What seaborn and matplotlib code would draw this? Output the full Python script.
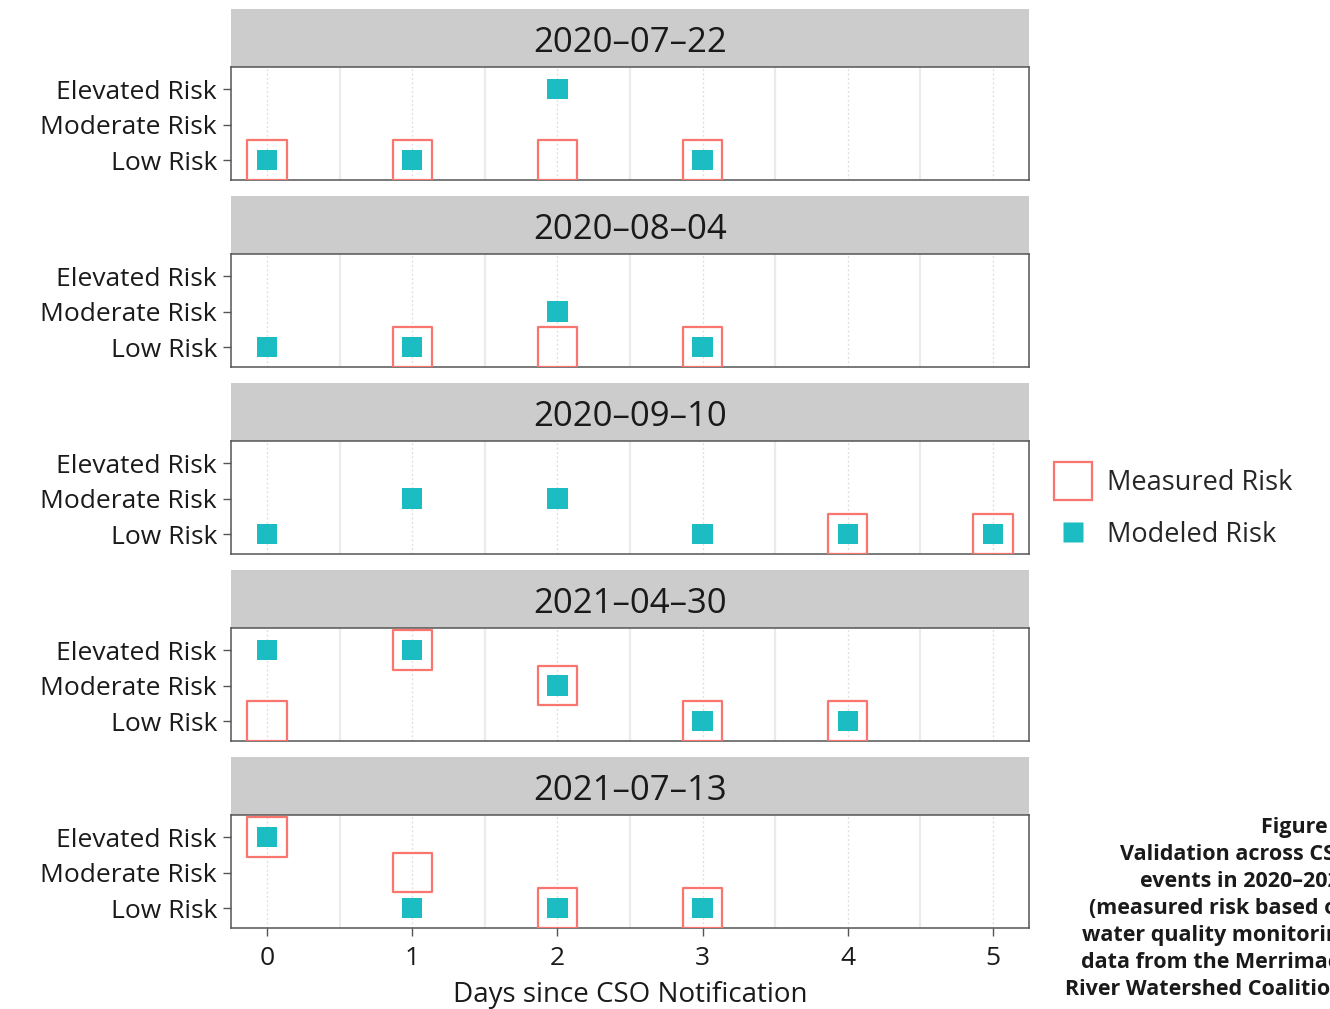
import matplotlib
matplotlib.use("Agg")
import matplotlib.pyplot as plt
from matplotlib.lines import Line2D
import seaborn as sns
import pandas as pd

sns.set_theme(style="white")
plt.rcParams["font.family"] = ["Open Sans", "DejaVu Sans"]

# Events (facets), risk levels and day axis
events = ["2020–07–22", "2020–08–04", "2020–09–10", "2021–04–30", "2021–07–13"]
risk_levels = ["Low Risk", "Moderate Risk", "Elevated Risk"]
day_ticks = [0, 1, 2, 3, 4, 5]

# Measured risk per event: (days, level)
measured_days = [
    [0, 1, 2, 3],
    [1, 2, 3],
    [4, 5],
    [0, 1, 2, 3, 4],
    [0, 1, 2, 3],
]
measured_risk = [
    ["Low Risk", "Low Risk", "Low Risk", "Low Risk"],
    ["Low Risk", "Low Risk", "Low Risk"],
    ["Low Risk", "Low Risk"],
    ["Low Risk", "Elevated Risk", "Moderate Risk", "Low Risk", "Low Risk"],
    ["Elevated Risk", "Moderate Risk", "Low Risk", "Low Risk"],
]

# Modeled risk per event
modeled_days = [
    [0, 1, 2, 3],
    [0, 1, 2, 3],
    [0, 1, 2, 3, 4, 5],
    [0, 1, 2, 3, 4],
    [0, 1, 2, 3],
]
modeled_risk = [
    ["Low Risk", "Low Risk", "Elevated Risk", "Low Risk"],
    ["Low Risk", "Low Risk", "Moderate Risk", "Low Risk"],
    ["Low Risk", "Moderate Risk", "Moderate Risk", "Low Risk", "Low Risk", "Low Risk"],
    ["Elevated Risk", "Elevated Risk", "Moderate Risk", "Low Risk", "Low Risk"],
    ["Elevated Risk", "Low Risk", "Low Risk", "Low Risk"],
]

level_code = {lvl: i + 1 for i, lvl in enumerate(risk_levels)}

rows = []
for ev, d, r in zip(events, measured_days, measured_risk):
    for di, ri in zip(d, r):
        rows.append({"event": ev, "day": di, "level": level_code[ri], "source": "Measured Risk"})
for ev, d, r in zip(events, modeled_days, modeled_risk):
    for di, ri in zip(d, r):
        rows.append({"event": ev, "day": di, "level": level_code[ri], "source": "Modeled Risk"})
df = pd.DataFrame(rows)

MEAS_COLOR = "#F8766D"
MOD_COLOR = "#1CBDC2"
STRIP_COLOR = "#CCCCCC"
SPINE_COLOR = "#555555"
TEXT_COLOR = "#1A1A1A"

W, H = 1330, 1009
fig = plt.figure(figsize=(W / 100, H / 100), dpi=100)

left_px, right_px = 231, 1029
strip_tops = [9, 196, 383, 570, 757]
strip_h, panel_h = 58, 113
TICK_FS = 19

for i, ev in enumerate(events):
    top = strip_tops[i]
    # strip header
    sax = fig.add_axes([left_px / W, 1 - (top + strip_h) / H,
                        (right_px - left_px) / W, strip_h / H])
    sax.set_facecolor(STRIP_COLOR)
    sax.set_xticks([]); sax.set_yticks([])
    for s in sax.spines.values():
        s.set_visible(False)
    sax.text(0.5, 0.42, ev, ha="center", va="center", fontsize=25, color=TEXT_COLOR,
             transform=sax.transAxes)

    ax = fig.add_axes([left_px / W, 1 - (top + strip_h + panel_h) / H,
                       (right_px - left_px) / W, panel_h / H])
    sub = df[df["event"] == ev]
    # grid: solid lines between days, dotted lines on each day
    for x in [0.5, 1.5, 2.5, 3.5, 4.5]:
        ax.axvline(x, color="#EBEBEB", lw=1.6, zorder=0)
    for x in day_ticks:
        ax.axvline(x, color="#DDDDDD", lw=0.9, ls=(0, (1.5, 2)), zorder=0)

    sns.scatterplot(data=sub[sub["source"] == "Measured Risk"], x="day", y="level",
                    marker="s", s=800, facecolor="none", edgecolor=MEAS_COLOR,
                    linewidth=1.6, ax=ax, zorder=3, legend=False)
    sns.scatterplot(data=sub[sub["source"] == "Modeled Risk"], x="day", y="level",
                    marker="s", s=215, color=MOD_COLOR, edgecolor="none",
                    linewidth=0, ax=ax, zorder=4, legend=False)

    ax.set_xlim(-0.248, 5.248)
    ax.set_ylim(0.44, 3.62)
    ax.set_yticks([1, 2, 3])
    ax.set_yticklabels(risk_levels, fontsize=TICK_FS, color=TEXT_COLOR)
    ax.set_xticks(day_ticks)
    ax.set_xlabel("")
    ax.set_ylabel("")
    ax.tick_params(axis="y", length=6, width=1, color=SPINE_COLOR, pad=4, left=True)
    if i == len(events) - 1:
        ax.set_xticklabels([str(d) for d in day_ticks], fontsize=TICK_FS, color=TEXT_COLOR)
        ax.tick_params(axis="x", length=6, width=1, color=SPINE_COLOR, pad=7, bottom=True)
        ax.set_xlabel("Days since CSO Notification", fontsize=20, color=TEXT_COLOR,
                      labelpad=7)
    else:
        ax.tick_params(axis="x", length=0, labelbottom=False)
    for s in ax.spines.values():
        s.set_color(SPINE_COLOR)
        s.set_linewidth(1.1)
    ax.set_facecolor("white")

handles = [
    Line2D([], [], marker="s", ls="none", markersize=28, markerfacecolor="none",
           markeredgecolor=MEAS_COLOR, markeredgewidth=1.6, label="Measured Risk"),
    Line2D([], [], marker="s", ls="none", markersize=14.5, markerfacecolor=MOD_COLOR,
           markeredgecolor="none", label="Modeled Risk"),
]
fig.legend(handles=handles, loc="center left", bbox_to_anchor=(1038 / W, 1 - 509 / H),
           frameon=False, fontsize=19.5, handlelength=1.6, handletextpad=0.45,
           labelspacing=0.85, borderpad=0)

caption = ("Figure 7:\nValidation across CSO\nevents in 2020–2021\n(measured risk based on\n"
           "water quality monitoring\ndata from the Merrimack\nRiver Watershed Coalition)")
fig.text(1352 / W, 1 - 817 / H, caption, ha="right", va="top", fontsize=15.5,
         fontweight="bold", color=TEXT_COLOR, linespacing=1.37)

fig.savefig("out.png", dpi=100)
